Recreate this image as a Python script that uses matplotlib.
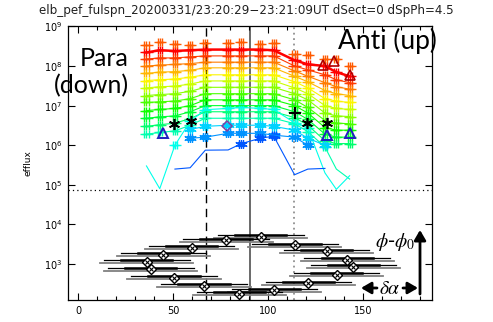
import numpy as np
import matplotlib.pyplot as plt

nan = np.nan

# pitch angle bins (deg) of the spin sectors
pitch = [36, 43, 51, 59, 67, 79, 86, 96, 103, 114, 121, 130, 136, 143]

# energy flux per energy channel (low -> high energy) in each pitch angle bin
eflux = [
    [2.2e8, 2.5e8, 2.4e8, 2.5e8, 2.6e8, 2.6e8, 2.6e8, 2.6e8, 2.5e8, 1.4e8, 1.1e8, 1.0e8, 7.0e7, 5.5e7],
    [1.5e8, 1.6e8, 1.6e8, 1.7e8, 1.8e8, 1.8e8, 1.8e8, 1.8e8, 1.8e8, 1.0e8, 8.0e7, 6.0e7, 4.5e7, 3.8e7],
    [1.0e8, 1.05e8, 1.1e8, 1.15e8, 1.25e8, 1.25e8, 1.25e8, 1.25e8, 1.25e8, 7.5e7, 5.5e7, 3.8e7, 3.0e7, 2.6e7],
    [6.5e7, 7.0e7, 7.2e7, 7.8e7, 9.0e7, 9.0e7, 9.0e7, 9.0e7, 9.0e7, 5.5e7, 4.0e7, 2.4e7, 2.0e7, 1.8e7],
    [4.3e7, 4.5e7, 4.7e7, 5.2e7, 6.0e7, 6.0e7, 6.0e7, 6.0e7, 6.0e7, 4.0e7, 2.8e7, 1.5e7, 1.3e7, 1.2e7],
    [2.8e7, 3.0e7, 3.1e7, 3.5e7, 4.2e7, 4.2e7, 4.2e7, 4.2e7, 4.2e7, 2.8e7, 2.0e7, 1.0e7, 8.5e6, 8.0e6],
    [1.8e7, 1.9e7, 2.0e7, 2.3e7, 2.9e7, 2.9e7, 2.9e7, 2.9e7, 2.9e7, 2.0e7, 1.4e7, 6.5e6, 5.5e6, 5.3e6],
    [1.2e7, 1.25e7, 1.3e7, 1.5e7, 2.0e7, 2.0e7, 2.0e7, 2.0e7, 2.0e7, 1.4e7, 9.0e6, 4.2e6, 3.6e6, 3.5e6],
    [7.5e6, 8.0e6, 8.5e6, 1.0e7, 1.4e7, 1.4e7, 1.4e7, 1.4e7, 1.4e7, 1.0e7, 6.5e6, 2.8e6, 2.4e6, 2.4e6],
    [4.8e6, 5.2e6, 5.5e6, 7.0e6, 1.0e7, 1.0e7, 1.0e7, 1.0e7, 1.0e7, 7.0e6, 4.5e6, 1.9e6, 1.6e6, 1.6e6],
    [3.0e6, 3.3e6, 3.6e6, 4.7e6, 7.0e6, 7.0e6, 7.0e6, 7.0e6, 7.0e6, 5.0e6, 3.2e6, 1.3e6, 1.1e6, 1.1e6],
    [1.9e6, 2.1e6, 2.3e6, 3.2e6, 4.8e6, 4.8e6, 4.8e6, 4.8e6, 4.8e6, 3.5e6, 2.2e6, 9.0e5, 2.5e5, 1.4e5],
    [3.0e5, 8.0e4, 1.0e6, 4.0e6, 7.9e6, 8.5e6, 9.0e6, 8.5e6, 8.0e6, 3.7e6, 2.7e6, 2.0e5, 7.7e4, 1.7e5],
    [nan, nan, nan, 2.5e6, 3.0e6, 3.2e6, 3.2e6, 3.2e6, 3.0e6, 2.4e6, 1.5e6, 1.0e6, nan, nan],
    [nan, nan, nan, 1.5e6, 1.6e6, 2.0e6, 2.0e6, 2.0e6, 1.8e6, 1.6e6, 1.0e6, nan, nan, nan],
    [nan, nan, 2.5e5, 2.7e5, 7.5e5, 7.6e5, 1.1e6, 1.5e6, 1.7e6, 1.8e5, 2.5e5, 2.6e5, nan, nan],
]
# highest single-sample flux of the lowest channel in each bin
peak_flux = [3.4e8, 4.0e8, 3.5e8, 3.4e8, 3.8e8, 3.8e8, 4.0e8, 3.6e8, 3.8e8, 2.0e8, 1.9e8, 1.5e8, 1.5e8, 1.0e8]
min_flux_plotted = 8e5

# single-sample markers
black_star_pa = [50.5, 59.5, 120.4, 130.9]
black_star_flux = [3.5e6, 4.0e6, 3.6e6, 3.6e6]
black_plus_pa = [114.2]
black_plus_flux = [6.5e6]
blue_tri_pa = [44.9, 131.2, 143.2]
blue_tri_flux = [2.0e6, 1.85e6, 2.05e6]
red_tri_pa = [129, 135, 143]
red_tri_flux = [1.05e8, 1.3e8, 6.0e7]
purple_dia_pa = [78.4]
purple_dia_flux = [3.0e6]

# spin phase of each sector vs its pitch angle
sect_pa = [96.2, 77.9, 114.2, 59.8, 130.9, 44.9, 141.7, 36.2, 144.9, 38.3, 136.2, 50.5, 121.2, 66.3, 103.3, 84.9]
sect_phase = [4.9e3, 4.0e3, 3.0e3, 2.6e3, 2.1e3, 1.7e3, 1.3e3, 1.15e3, 8.6e2, 7.4e2, 5.3e2, 4.5e2, 3.3e2, 2.8e2, 2.2e2, 1.8e2]
dalpha = 22.5

fig = plt.figure(figsize=(4.93, 3.22), dpi=100)
ax = fig.add_axes([0.138, 0.068, 0.738, 0.850])

nch = len(eflux)
colors = plt.cm.hsv(np.linspace(0, 0.62, nch))
pa = np.array(pitch, dtype=float)
spread = (-1.1, 0.0, 1.1)

# each bin is drawn as a little cloud: samples spread over the sector width
for i, row in enumerate(eflux):
    f = np.array(row)
    shown = np.where(f >= min_flux_plotted, f, nan)
    for dx in spread:
        if i < 13:
            ax.plot(pa + dx, shown, ls="none", marker="+", ms=6, mew=1.0, color=colors[i], zorder=2)
        else:
            ax.plot(pa + dx, shown, ls="none", marker=(6, 2, 0), ms=6, mew=0.9, color=colors[i], zorder=2)
for dx in spread:
    ax.plot(pa + dx, peak_flux, ls="none", marker="+", ms=6, mew=1.0, color="#ff5a00", zorder=2)
for i, row in enumerate(eflux):
    ax.plot(pitch, row, "-", lw=1.8 if i == 0 else 0.8, color=colors[i], zorder=3)

ax.plot(black_star_pa, black_star_flux, ls="none", marker=(6, 2, 0), ms=8, mew=1.2, color="k", zorder=4)
ax.plot(black_plus_pa, black_plus_flux, ls="none", marker="+", ms=9, mew=1.5, color="k", zorder=4)
ax.plot(blue_tri_pa, blue_tri_flux, ls="none", marker="^", ms=7, mew=1.4, mfc="none", mec="#2020c0", zorder=4)
ax.plot(red_tri_pa, red_tri_flux, ls="none", marker="^", ms=7, mew=1.2, mfc="none", mec="#b00000", zorder=4)
ax.plot(purple_dia_pa, purple_dia_flux, ls="none", marker="D", ms=5, mew=1.1, mfc="none", mec="#8040a0", zorder=4)

# spin-phase sectors with their pitch-angle widths
for p, ph in zip(sect_pa, sect_phase):
    ax.plot([p - dalpha - 2, p + dalpha + 2], [ph / 1.09, ph / 1.09], color="#808080", lw=1.3, zorder=2)
    ax.plot([p - dalpha, p + dalpha], [ph * 1.09, ph * 1.09], color="k", lw=0.9, zorder=2)
    ax.plot([p - dalpha * 0.6, p + dalpha * 0.6], [ph * 1.09, ph * 1.09], color="k", lw=1.8, zorder=2)
ax.plot(sect_pa, sect_phase, ls="none", marker="D", ms=5, mew=1.0, mfc="white", mec="k", zorder=5)
ax.plot(sect_pa, sect_phase, ls="none", marker="x", ms=3, mew=0.8, color="k", zorder=6)

ax.axvline(67.2, color="k", lw=1.0, ls=(0, (6, 4)), zorder=1)
ax.axvline(90.5, color="#505050", lw=1.2, zorder=1)
ax.axvline(113.7, color="#909090", lw=1.3, ls=(0, (1, 2)), zorder=1)
ax.axhline(7.5e4, color="k", lw=0.9, ls=(0, (1, 2.5)), zorder=1)

ax.set_yscale("log")
ax.set_xlim(-5.3, 186.3)
ax.set_ylim(1.23e2, 1e9)
ax.set_xticks([0, 50, 100, 150])
ax.set_xticks(np.arange(0, 190, 10), minor=True)
ax.set_yticks([1e3, 1e4, 1e5, 1e6, 1e7, 1e8, 1e9])
ax.yaxis.set_minor_locator(plt.NullLocator())
ax.tick_params(which="both", direction="in", top=True, right=True, labelsize=7, width=0.8, pad=4)
ax.tick_params(which="major", length=5)
ax.tick_params(which="minor", length=3)
for s in ax.spines.values():
    s.set_linewidth(0.9)
ax.set_ylabel("efflux", fontsize=6.5, labelpad=8)

fig.text(0.5, 0.968, "elb_pef_fulspn_20200331/23:20:29\u221223:21:09UT dSect=0 dSpPh=4.5",
         ha="center", va="center", fontsize=8.6, color="#202020")

fig.text(129 / 493, 1 - 72 / 322, "Para\n(down)", ha="right", va="center", multialignment="right",
         fontsize=18, family="Lato", linespacing=1.2)
fig.text(387 / 493, 1 - 41 / 322, "Anti (up)", ha="center", va="center", fontsize=19, family="Lato")

fig.text(395 / 493, 1 - 242 / 322, r"$\phi$-$\phi_0$", ha="center", va="center", fontsize=14,
         math_fontfamily="stix")
fig.text(390 / 493, 1 - 288 / 322, r"$\delta\alpha$", ha="center", va="center", fontsize=14,
         math_fontfamily="stix")
arrow = dict(arrowstyle="-|>,head_length=0.6,head_width=0.35", color="k", lw=2.0, shrinkA=0, shrinkB=0)
ax.annotate("", xy=(420 / 493, 1 - 230 / 322), xytext=(420 / 493, 1 - 294 / 322),
            xycoords="figure fraction", textcoords="figure fraction", arrowprops=arrow)
ax.annotate("", xy=(361 / 493, 1 - 288 / 322), xytext=(377 / 493, 1 - 288 / 322),
            xycoords="figure fraction", textcoords="figure fraction", arrowprops=arrow)
ax.annotate("", xy=(418 / 493, 1 - 288 / 322), xytext=(403 / 493, 1 - 288 / 322),
            xycoords="figure fraction", textcoords="figure fraction", arrowprops=arrow)

fig.savefig("out.png", dpi=100)
